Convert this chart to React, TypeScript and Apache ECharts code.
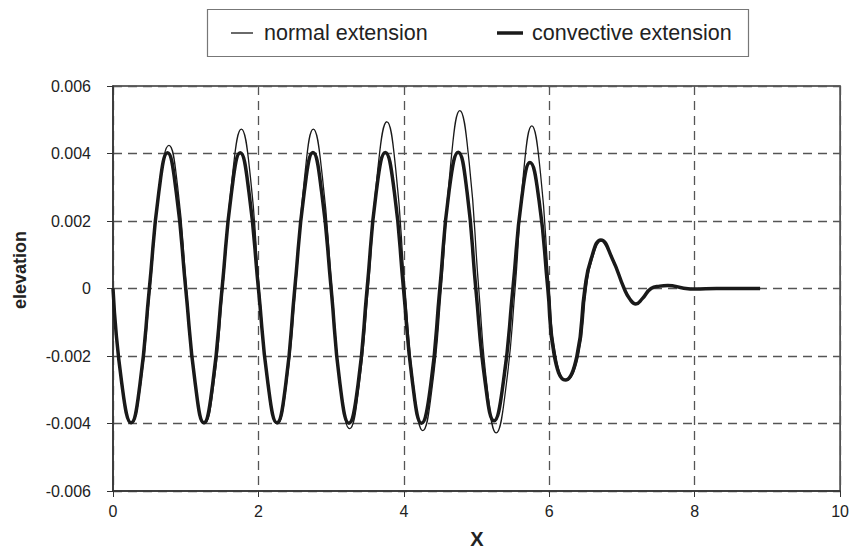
import React, { useEffect, useRef } from "react";
import * as echarts from "echarts";

const seriesNames = ["normal extension", "convective extension"];

const normalX = [
  0, 0.125, 0.255, 0.38, 0.51, 0.64, 0.77, 0.89, 1.01, 1.135, 1.26, 1.385, 1.51, 1.64, 1.765, 1.89,
  2.01, 2.135, 2.26, 2.385, 2.51, 2.635, 2.755, 2.88, 3.01, 3.13, 3.255, 3.38, 3.51, 3.64, 3.767, 3.89,
  4.015, 4.14, 4.26, 4.385, 4.515, 4.645, 4.77, 4.9, 5.03, 5.15, 5.27, 5.4, 5.53, 5.645, 5.76, 5.88,
  6.0, 6.09, 6.235, 6.4, 6.51, 6.59, 6.72, 6.875, 7.035, 7.115, 7.195, 7.285, 7.405, 7.53, 7.64, 7.85, 8.0, 8.3, 8.9,
];
const normalY = [
  0, -0.0028, -0.00399, -0.00285, 0, 0.003, 0.00424, 0.003, 0, -0.00285, -0.004, -0.00285, 0, 0.0033, 0.00472, 0.0033,
  0, -0.00285, -0.00401, -0.00285, 0, 0.0033, 0.00472, 0.0033, 0, -0.00295, -0.00415, -0.00295, 0, 0.0035, 0.00494, 0.0035,
  0, -0.003, -0.00421, -0.003, 0, 0.0037, 0.00527, 0.0037, 0, -0.003, -0.00428, -0.003, 0, 0.0034, 0.00482, 0.0034,
  0, -0.002, -0.00273, -0.002, 0, 0.00087, 0.00142, 0.00087, 0, -0.00032, -0.00046, -0.0003, 0, 0.00007, 0.00009, 0.00001, -0.000015, 0, 0,
];

const convX = [
  0, 0.12, 0.25, 0.37, 0.5, 0.63, 0.75, 0.87, 1.0, 1.13, 1.25, 1.37, 1.5, 1.63, 1.75, 1.87,
  2.0, 2.13, 2.255, 2.375, 2.5, 2.63, 2.75, 2.87, 3.0, 3.12, 3.245, 3.37, 3.495, 3.62, 3.745, 3.87,
  3.995, 4.12, 4.243, 4.37, 4.495, 4.62, 4.748, 4.87, 4.99, 5.12, 5.24, 5.37, 5.5, 5.62, 5.735, 5.86,
  5.98, 6.07, 6.22, 6.38, 6.49, 6.575, 6.71, 6.87, 7.03, 7.11, 7.19, 7.28, 7.4, 7.52, 7.63, 7.85, 8.0, 8.3, 8.9,
];
const convY = [
  0, -0.0028, -0.00398, -0.00285, 0, 0.00285, 0.00402, 0.00285, 0, -0.0028, -0.00398, -0.00285, 0, 0.00285, 0.00402, 0.00285,
  0, -0.0028, -0.00398, -0.00285, 0, 0.00285, 0.00403, 0.00285, 0, -0.0028, -0.00399, -0.00285, 0, 0.00285, 0.00403, 0.00285,
  0, -0.0028, -0.00399, -0.00285, 0, 0.00285, 0.00404, 0.00285, 0, -0.0028, -0.00392, -0.00275, 0, 0.00265, 0.00373, 0.0026,
  0, -0.002, -0.00271, -0.002, 0, 0.00087, 0.00144, 0.00087, 0, -0.00032, -0.00046, -0.0003, 0, 0.00007, 0.00009, 0.00001, -0.000015, 0, 0,
];

const xTicks = [0, 2, 4, 6, 8, 10];
const yTicks = [-0.006, -0.004, -0.002, 0, 0.002, 0.004, 0.006];

const FONT = "'Liberation Sans', Arial, sans-serif";

function zip(xs: number[], ys: number[]) {
  return xs.map((x, i) => [x, ys[i]]);
}

export default function App() {
  const ref = useRef<HTMLDivElement>(null);
  useEffect(() => {
    if (!ref.current) return;
    const chart = echarts.init(ref.current, undefined, { renderer: "svg" });
    const gridLine = { show: true, lineStyle: { color: "#555", width: 1.3, type: [9, 6] as any } };
    chart.setOption({
      animation: false,
      backgroundColor: "#fff",
      grid: {
        left: 113,
        right: 11,
        top: 86,
        bottom: 59,
        show: true,
        borderColor: "#333",
        borderWidth: 1.5,
        backgroundColor: "transparent",
      },
      xAxis: {
        type: "value",
        min: xTicks[0],
        max: xTicks[xTicks.length - 1],
        interval: 2,
        axisLine: { show: true, onZero: false, lineStyle: { color: "#333", width: 1.5 } },
        axisTick: { show: true, length: 6, lineStyle: { color: "#333" } },
        axisLabel: { color: "#222", fontSize: 16, fontFamily: FONT, margin: 12 },
        splitLine: gridLine,
      },
      yAxis: {
        type: "value",
        min: yTicks[0],
        max: yTicks[yTicks.length - 1],
        interval: 0.002,
        axisLine: { show: true, onZero: false, lineStyle: { color: "#333", width: 1.5 } },
        axisTick: { show: true, length: 6, lineStyle: { color: "#333" } },
        axisLabel: {
          color: "#222",
          fontSize: 16,
          fontFamily: FONT,
          margin: 22,
          formatter: (v: number) => (Math.abs(v) < 1e-9 ? "0" : v.toFixed(3)),
        },
        splitLine: gridLine,
      },
      series: [
        {
          name: seriesNames[1],
          type: "line",
          data: zip(convX, convY),
          showSymbol: false,
          symbol: "none",
          smooth: 0.5,
          lineStyle: { color: "#1a1a1a", width: 3.5 },
          z: 2,
        },
        {
          name: seriesNames[0],
          type: "line",
          data: zip(normalX, normalY),
          showSymbol: false,
          symbol: "none",
          smooth: 0.5,
          lineStyle: { color: "#1a1a1a", width: 1.3 },
          z: 3,
        },
      ],
      graphic: [
        {
          type: "rect",
          shape: { x: 207.5, y: 9.5, width: 541, height: 47 },
          style: { fill: "#fff", stroke: "#777", lineWidth: 1.2 },
        },
        {
          type: "line",
          shape: { x1: 231, y1: 33, x2: 253, y2: 33 },
          style: { stroke: "#1a1a1a", lineWidth: 1.3 },
        },
        {
          type: "text",
          x: 264,
          y: 33,
          style: {
            text: seriesNames[0],
            fontSize: 21.5,
            fontFamily: FONT,
            fill: "#222",
            verticalAlign: "middle",
            align: "left",
          },
        },
        {
          type: "line",
          shape: { x1: 497, y1: 33, x2: 523, y2: 33 },
          style: { stroke: "#1a1a1a", lineWidth: 3.5 },
        },
        {
          type: "text",
          x: 532,
          y: 33,
          style: {
            text: seriesNames[1],
            fontSize: 21.5,
            fontFamily: FONT,
            fill: "#222",
            verticalAlign: "middle",
            align: "left",
          },
        },
        {
          type: "text",
          x: 20,
          y: 270,
          rotation: Math.PI / 2,
          style: {
            text: "elevation",
            fontSize: 18,
            fontWeight: "bold",
            fontFamily: FONT,
            fill: "#222",
            align: "center",
            verticalAlign: "middle",
          },
        },
        {
          type: "text",
          x: 477,
          y: 539,
          style: {
            text: "X",
            fontSize: 20,
            fontWeight: "bold",
            fontFamily: FONT,
            fill: "#222",
            align: "center",
            verticalAlign: "middle",
          },
        },
      ],
    });
    return () => chart.dispose();
  }, []);
  return <div ref={ref} style={{ width: 852, height: 550, position: "absolute", left: 0, top: 0 }} />;
}
